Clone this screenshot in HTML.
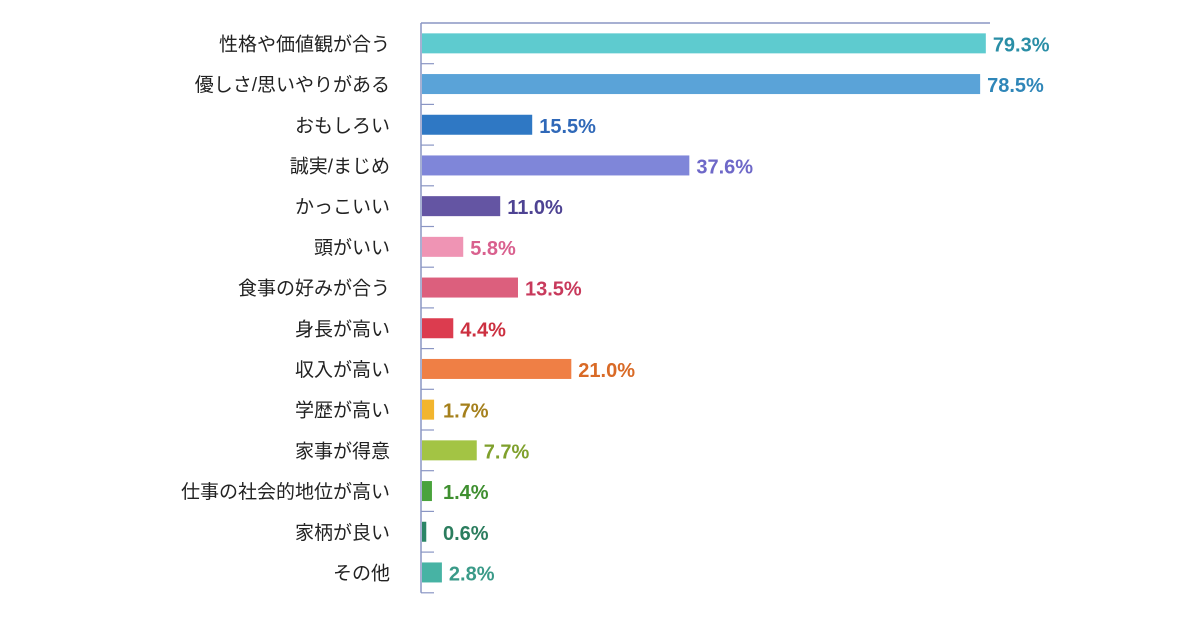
<!DOCTYPE html>
<html><head><meta charset="utf-8"><style>
body{margin:0;background:#fff;width:1200px;height:618px;overflow:hidden}
svg text{font-family:"Liberation Sans","Noto Sans CJK JP",sans-serif}
</style></head><body>
<svg id="chart" width="1200" height="618" xmlns="http://www.w3.org/2000/svg"></svg>
<script>
const categories=["性格や価値観が合う","優しさ/思いやりがある","おもしろい","誠実/まじめ","かっこいい","頭がいい","食事の好みが合う","身長が高い","収入が高い","学歴が高い","家事が得意","仕事の社会的地位が高い","家柄が良い","その他"];
const values=[79.3,78.5,15.5,37.6,11.0,5.8,13.5,4.4,21.0,1.7,7.7,1.4,0.6,2.8];
const valueLabels=["79.3%","78.5%","15.5%","37.6%","11.0%","5.8%","13.5%","4.4%","21.0%","1.7%","7.7%","1.4%","0.6%","2.8%"];
const barColors=["#5ecbcf","#5aa3d8","#2f78c4","#7f86d9","#6455a3","#ef94b4","#dc5f7d","#dc3c4f","#ef7f45","#f2b52e","#a3c444","#49a33c","#2b8566","#47b3a4"];
const textColors=["#2a8ea6","#2f86b8","#2f68b8","#6e68c8","#4e4393","#d9608e","#c83a5c","#cc3040","#d96a26","#a5801c","#7fa02c","#3f8f30","#2b7d5e","#3a9a88"];
const svg=document.getElementById('chart');
const NS='http://www.w3.org/2000/svg';
const x0=421,pxPer=7.11,topY=23,rowH=40.7;
const xs=v=>x0+v*pxPer;
const yc=i=>topY+rowH*(i+0.5);
function mk(t,a){const e=document.createElementNS(NS,t);for(const k in a)e.setAttribute(k,a[k]);svg.appendChild(e);return e;}
const axis=mk('line',{x1:x0,y1:topY,x2:x0,y2:topY+rowH*categories.length,stroke:'#8a96c4','stroke-width':1.5});


const tl=mk('line',{x1:x0,y1:topY,x2:990,y2:topY,stroke:'#8a96c4','stroke-width':1.5});


for(let i=1;i<=categories.length;i++){
 const t=mk('line',{x1:x0,y1:topY+rowH*i,x2:x0+13,y2:topY+rowH*i,stroke:'#8a96c4','stroke-width':1.2});
 
 
}
categories.forEach((c,i)=>{
 const y=yc(i);
 const lab=mk('text',{x:390,y:y+7,'text-anchor':'end','font-size':19,fill:'#222'});
 lab.textContent=c;
 
 
 const w=Math.max(values[i]*pxPer,2);
 const b=mk('rect',{x:x0+1,y:y-10,width:w,height:20,fill:barColors[i]});
 
 
 const v=mk('text',{x:Math.max(xs(values[i])+8,x0+22),y:y+8,'font-size':20,'font-weight':'bold',fill:textColors[i]});
 v.textContent=valueLabels[i];
 
 
});
</script>
</body></html>
